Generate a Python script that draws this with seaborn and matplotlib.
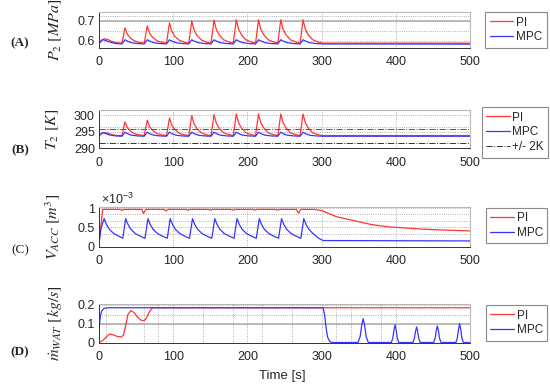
import matplotlib
matplotlib.use('Agg')
import matplotlib.pyplot as plt
import seaborn as sns

sns.set_style('white')
plt.rcParams['font.family'] = ['Liberation Sans', 'DejaVu Sans']
plt.rcParams['mathtext.fontset'] = 'stix'

# ---- data ----
# (A) pressure P2 [MPa]
t_p2_pi = [0, 4, 8, 12, 17, 24, 31,
           35, 38, 42, 48, 55, 61,
           65, 68, 72, 78, 85, 91,
           95, 98, 102, 108, 115, 121,
           125, 128, 132, 138, 145, 151,
           155, 158, 162, 168, 175, 181,
           185, 188, 192, 198, 205, 211,
           215, 218, 222, 228, 235, 241,
           245, 248, 252, 258, 265, 271,
           275, 278, 282, 288, 295, 301, 500]
p2_pi = [0.590, 0.604, 0.610, 0.606, 0.597, 0.590, 0.588,
         0.665, 0.634, 0.615, 0.599, 0.591, 0.588,
         0.675, 0.640, 0.618, 0.600, 0.592, 0.588,
         0.690, 0.649, 0.623, 0.603, 0.593, 0.588,
         0.700, 0.655, 0.627, 0.604, 0.593, 0.588,
         0.704, 0.658, 0.629, 0.605, 0.594, 0.588,
         0.706, 0.659, 0.630, 0.605, 0.594, 0.588,
         0.706, 0.659, 0.630, 0.605, 0.594, 0.588,
         0.706, 0.659, 0.630, 0.605, 0.594, 0.588,
         0.706, 0.659, 0.630, 0.605, 0.594, 0.588, 0.588]
t_p2_mpc = [0, 5, 9, 14, 22, 31,
            35, 39, 44, 52, 61,
            65, 69, 74, 82, 91,
            95, 99, 104, 112, 121,
            125, 129, 134, 142, 151,
            155, 159, 164, 172, 181,
            185, 189, 194, 202, 211,
            215, 219, 224, 232, 241,
            245, 249, 254, 262, 271,
            275, 279, 284, 292, 301, 500]
p2_mpc = [0.586, 0.606, 0.601, 0.594, 0.586, 0.584,
          0.605, 0.597, 0.590, 0.586, 0.584,
          0.605, 0.597, 0.590, 0.586, 0.584,
          0.605, 0.597, 0.590, 0.586, 0.584,
          0.605, 0.597, 0.590, 0.586, 0.584,
          0.605, 0.597, 0.590, 0.586, 0.584,
          0.605, 0.597, 0.590, 0.586, 0.584,
          0.605, 0.597, 0.590, 0.586, 0.584,
          0.605, 0.597, 0.590, 0.586, 0.584,
          0.605, 0.597, 0.590, 0.586, 0.584, 0.583]

# (B) temperature T2 [K]
t_t2_pi = t_p2_pi
t2_pi = [294.0, 294.6, 294.8, 294.6, 294.2, 293.9, 293.9,
         298.0, 296.4, 295.3, 294.4, 294.1, 293.9,
         298.5, 296.7, 295.5, 294.5, 294.1, 293.9,
         299.2, 297.1, 295.8, 294.6, 294.1, 293.9,
         299.9, 297.5, 296.0, 294.7, 294.1, 293.9,
         300.2, 297.7, 296.1, 294.7, 294.2, 293.9,
         300.4, 297.8, 296.2, 294.7, 294.2, 293.9,
         300.4, 297.8, 296.2, 294.7, 294.2, 293.9,
         300.4, 297.8, 296.2, 294.7, 294.2, 293.9,
         300.4, 297.8, 296.2, 294.7, 294.2, 293.9, 293.9]
t_t2_mpc = t_p2_mpc
t2_mpc = [293.8, 294.8, 294.5, 294.1, 293.8, 293.7,
          294.9, 294.4, 294.0, 293.8, 293.7,
          294.9, 294.4, 294.0, 293.8, 293.7,
          294.9, 294.4, 294.0, 293.8, 293.7,
          294.9, 294.4, 294.0, 293.8, 293.7,
          294.9, 294.4, 294.0, 293.8, 293.7,
          294.9, 294.4, 294.0, 293.8, 293.7,
          294.9, 294.4, 294.0, 293.8, 293.7,
          294.9, 294.4, 294.0, 293.8, 293.7,
          294.9, 294.4, 294.0, 293.8, 293.7, 293.7]
t2_band = [291.8, 295.8]

# (C) accumulator volume, units of 1e-3 m^3
t_v_pi = [0, 5, 29, 31, 33, 58, 60, 63, 88, 90, 93, 118, 120, 123,
          148, 150, 153, 178, 180, 183, 208, 210, 213, 238, 240, 243,
          266, 269, 272, 290, 300, 320, 343, 366, 388, 410, 433, 455, 500]
v_pi = [0.10, 0.97, 0.97, 0.94, 0.97, 0.97, 0.86, 0.97, 0.97, 0.93, 0.97,
        0.97, 0.95, 0.97, 0.97, 0.95, 0.97, 0.97, 0.95, 0.97, 0.97, 0.95,
        0.97, 0.97, 0.95, 0.97, 0.97, 0.87, 0.97, 0.97, 0.94, 0.78, 0.68,
        0.58, 0.52, 0.49, 0.46, 0.44, 0.41]
t_v_mpc = [0, 3, 7, 10, 14, 20, 27, 32,
           36, 39, 43, 49, 56, 62,
           66, 69, 73, 79, 86, 92,
           96, 99, 103, 109, 116, 122,
           126, 129, 133, 139, 146, 152,
           156, 159, 163, 169, 176, 182,
           186, 189, 193, 199, 206, 212,
           216, 219, 223, 229, 236, 242,
           246, 249, 253, 259, 266, 272,
           276, 279, 283, 289, 296, 302, 500]
v_mpc = [0.10, 0.50, 0.73, 0.58, 0.45, 0.34, 0.27, 0.22,
         0.73, 0.58, 0.45, 0.34, 0.27, 0.22,
         0.73, 0.58, 0.45, 0.34, 0.27, 0.22,
         0.73, 0.58, 0.45, 0.34, 0.27, 0.22,
         0.73, 0.58, 0.45, 0.34, 0.27, 0.22,
         0.73, 0.58, 0.45, 0.34, 0.27, 0.22,
         0.73, 0.58, 0.45, 0.34, 0.27, 0.22,
         0.73, 0.58, 0.45, 0.34, 0.27, 0.22,
         0.73, 0.58, 0.45, 0.34, 0.27, 0.22,
         0.73, 0.58, 0.45, 0.33, 0.22, 0.16, 0.15]

# (D) water mass flow [kg/s]
t_m_pi = [0, 5, 10, 14, 18, 24, 30, 33, 36, 39, 43, 47, 52, 57, 61, 64, 68, 72, 500]
m_pi = [0.0, 0.01, 0.03, 0.045, 0.042, 0.033, 0.03, 0.04, 0.09, 0.15, 0.17,
        0.16, 0.135, 0.118, 0.117, 0.13, 0.165, 0.185, 0.185]
t_m_mpc = [0, 1, 2, 4, 7, 12, 302, 304, 306, 308, 311, 314,
           349, 352, 354, 356, 358, 360, 363,
           394, 396, 397.5, 399, 400.5, 402, 404,
           423, 425, 426.5, 428, 429.5, 431, 433,
           451, 453, 454.5, 456, 457.5, 459, 461,
           481, 483, 484.5, 486, 487.5, 489, 491, 500]
m_mpc = [0.04, 0.11, 0.145, 0.17, 0.182, 0.185, 0.185, 0.15, 0.08, 0.03, 0.005, 0.0,
         0.0, 0.032, 0.09, 0.127, 0.09, 0.032, 0.0,
         0.0, 0.024, 0.066, 0.094, 0.066, 0.024, 0.0,
         0.0, 0.021, 0.058, 0.083, 0.058, 0.021, 0.0,
         0.0, 0.022, 0.062, 0.088, 0.062, 0.022, 0.0,
         0.0, 0.025, 0.07, 0.10, 0.07, 0.025, 0.0, 0.0]

RED = '#ff3535'
BLUE = '#3535ff'
W, H = 550, 389

fig = plt.figure(figsize=(5.5, 3.89), dpi=100)


def px_axes(left, top, right, bottom):
    return fig.add_axes([left / W, 1 - bottom / H, (right - left) / W, (bottom - top) / H])


def style(ax, ylim, yticks, ylabels, ylabel, labx):
    ax.set_xlim(0, 500)
    ax.set_ylim(*ylim)
    ax.set_xticks(range(0, 501, 100))
    ax.set_yticks(yticks)
    ax.set_yticklabels(ylabels)
    ax.tick_params(direction='in', length=3, width=0.6, color='#333333', labelsize=9)
    ax.tick_params(axis='x', pad=6)
    ax.tick_params(axis='y', pad=3)
    ax.grid(True, ls=':', color='#9a9a9a', lw=0.6)
    for s in ['left', 'bottom']:
        ax.spines[s].set_color('#333333')
        ax.spines[s].set_linewidth(0.7)
    for s in ['top', 'right']:
        ax.spines[s].set_color('#b8b8b8')
        ax.spines[s].set_linewidth(0.8)
    ax.set_xlabel('')
    ax.set_ylabel(ylabel, fontsize=11.5)
    ax.yaxis.set_label_coords((labx - 99) / 371, 0.5)


def legend(ax, cx, cy):
    leg = ax.legend(loc='center', bbox_to_anchor=(cx / W, 1 - cy / H),
                    bbox_transform=fig.transFigure, fontsize=8.5, fancybox=False,
                    framealpha=1, edgecolor='#8a8a8a', handlelength=2.0,
                    handletextpad=0.25, borderpad=0.35, labelspacing=0.25,
                    borderaxespad=0)
    leg.get_frame().set_linewidth(0.8)


axA = px_axes(99, 12, 470, 47.5)
axB = px_axes(99, 110, 470, 148.5)
axC = px_axes(99, 206.7, 470, 246.7)
axD = px_axes(99, 304, 470, 342.5)

# (A)
axA.axhline(0.7, color='#b0b0b0', lw=1.2, zorder=1)
for yv in [0.65, 0.725]:
    axA.axhline(yv, color='#9a9a9a', ls=':', lw=0.6, zorder=1)
sns.lineplot(x=t_p2_pi, y=p2_pi, ax=axA, color=RED, lw=0.9, label='PI', sort=False)
sns.lineplot(x=t_p2_mpc, y=p2_mpc, ax=axA, color=BLUE, lw=0.9, label='MPC', sort=False)
style(axA, (0.566, 0.745), [0.6, 0.7], ['0.6', '0.7'], r'$P_2\ [MPa]$', 64)
legend(axA, 516, 30)

# (B)
sns.lineplot(x=t_t2_pi, y=t2_pi, ax=axB, color=RED, lw=0.9, label='PI', sort=False)
sns.lineplot(x=t_t2_mpc, y=t2_mpc, ax=axB, color=BLUE, lw=0.9, label='MPC', sort=False)
axB.axhline(t2_band[0], color='#333333', ls='-.', lw=0.7, label='+/- 2K')
axB.axhline(t2_band[1], color='#555555', ls='-.', lw=0.7)
axB.axhline(296.5, color='#9a9a9a', ls=':', lw=0.6, zorder=1)
style(axB, (290, 301.6), [290, 295, 300], ['290', '295', '300'], r'$T_2\ [K]$', 61)
legend(axB, 515, 132.5)

# (C)
for yv in [0.32, 0.66, 0.85]:
    axC.axhline(yv, color='#9a9a9a', ls=':', lw=0.6, zorder=1)
sns.lineplot(x=t_v_pi, y=v_pi, ax=axC, color=RED, lw=0.9, label='PI', sort=False)
sns.lineplot(x=t_v_mpc, y=v_mpc, ax=axC, color=BLUE, lw=0.9, label='MPC', sort=False)
style(axC, (0, 1.04), [0, 0.5, 1], ['0', '0.5', '1'], r'$V_{ACC}\ [m^3]$', 62)
axC.text(0.005, 1.0, r'×10$^{\mathregular{-3}}$', transform=axC.transAxes,
         fontsize=9, ha='left', va='bottom')
legend(axC, 516.5, 225.5)

# (D)
axD.axhline(0.1, color='#b0b0b0', lw=1.2, zorder=1)
axD.axhline(0.147, color='#9a9a9a', ls=':', lw=0.6, zorder=1)
for xv in [10, 60, 80, 140, 180, 220, 260, 320, 340, 380]:
    axD.axvline(xv, color='#9a9a9a', ls=':', lw=0.6, zorder=1)
sns.lineplot(x=t_m_pi, y=m_pi, ax=axD, color=RED, lw=0.9, label='PI', sort=False)
sns.lineplot(x=t_m_mpc, y=m_mpc, ax=axD, color=BLUE, lw=0.9, label='MPC', sort=False)
style(axD, (0, 0.205), [0, 0.1, 0.2], ['0', '0.1', '0.2'], r'$\dot{m}_{WAT}\ [kg/s]$', 64)
legend(axD, 516.5, 323)

fig.text(282 / W, 1 - 376 / H, 'Time [s]', ha='center', va='center', fontsize=9.5)

for lab, y, wt in [('(A)', 43, 'bold'), ('(B)', 150, 'bold'), ('(C)', 250, 'normal'), ('(D)', 352, 'bold')]:
    fig.text(20 / W, 1 - y / H, lab, ha='center', va='center', fontsize=9.5,
             fontfamily='Liberation Serif', fontweight=wt)

fig.savefig('out.png', dpi=100)
